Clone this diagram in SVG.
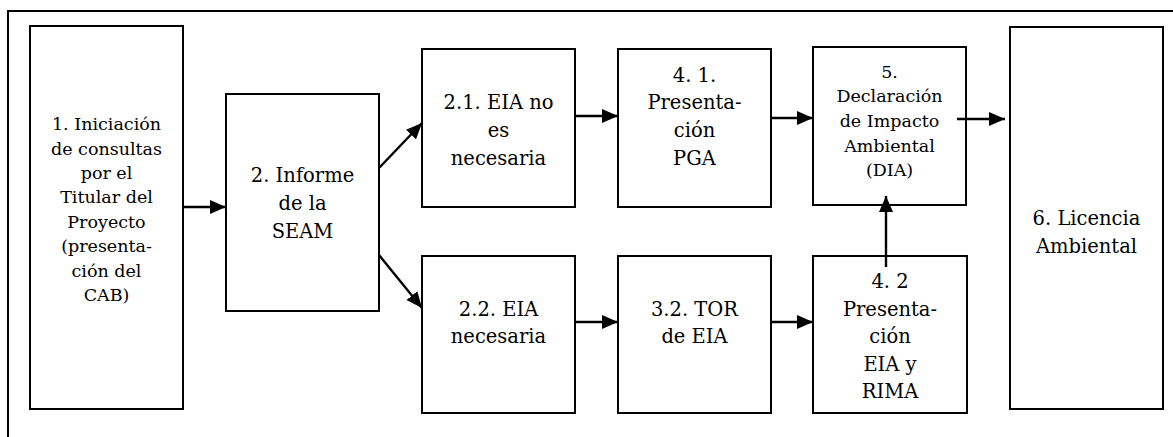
<svg xmlns="http://www.w3.org/2000/svg" width="1173" height="437" viewBox="0 0 1173 437">
<style>
.box{fill:#fff;stroke:#000;stroke-width:2}
.t{font-family:"DejaVu Serif","Liberation Serif",serif;font-size:19.5px;text-anchor:middle;fill:#000}
.s{font-size:17.5px}
.c{stroke:#000;stroke-width:2.4;fill:none;marker-end:url(#ah)}
</style>
<defs>
<marker id="ah" markerUnits="userSpaceOnUse" markerWidth="17" markerHeight="14" refX="16" refY="7" orient="auto">
<path d="M0,0 L16,7 L0,14 z" fill="#000"/>
</marker>
</defs>
<rect width="1173" height="437" fill="#fff"/>
<path d="M8,437 V11 H1173" fill="none" stroke="#000" stroke-width="2"/>
<g id="n1"><rect class="box" x="30" y="26" width="153" height="383"/>
<text class="t s"><tspan x="106.5" y="130">1. Iniciación</tspan><tspan x="106.5" y="155">de consultas</tspan><tspan x="106.5" y="179">por el</tspan><tspan x="106.5" y="203">Titular del</tspan><tspan x="106.5" y="228">Proyecto</tspan><tspan x="106.5" y="252">(presenta-</tspan><tspan x="106.5" y="277">ción del</tspan><tspan x="106.5" y="301">CAB)</tspan></text></g>
<g id="n2"><rect class="box" x="226" y="94" width="153" height="217"/>
<text class="t"><tspan x="302.5" y="182">2. Informe</tspan><tspan x="302.5" y="210">de la</tspan><tspan x="302.5" y="238">SEAM</tspan></text></g>
<g id="n21"><rect class="box" x="422" y="49" width="153" height="158"/>
<text class="t"><tspan x="498.5" y="109">2.1. EIA no</tspan><tspan x="498.5" y="137">es</tspan><tspan x="498.5" y="165">necesaria</tspan></text></g>
<g id="n41"><rect class="box" x="618" y="49" width="153" height="158"/>
<text class="t"><tspan x="694.5" y="82">4. 1.</tspan><tspan x="694.5" y="109">Presenta-</tspan><tspan x="694.5" y="137">ción</tspan><tspan x="694.5" y="165">PGA</tspan></text></g>
<g id="n5"><rect class="box" x="813" y="47" width="153" height="158"/>
<text class="t s"><tspan x="889.5" y="78">5.</tspan><tspan x="889.5" y="102">Declaración</tspan><tspan x="889.5" y="127">de Impacto</tspan><tspan x="889.5" y="152">Ambiental</tspan><tspan x="889.5" y="176">(DIA)</tspan></text></g>
<g id="n22"><rect class="box" x="422" y="256" width="153" height="157"/>
<text class="t"><tspan x="498.5" y="316">2.2. EIA</tspan><tspan x="498.5" y="343">necesaria</tspan></text></g>
<g id="n32"><rect class="box" x="618" y="256" width="153" height="157"/>
<text class="t"><tspan x="694.5" y="316">3.2. TOR</tspan><tspan x="694.5" y="343">de EIA</tspan></text></g>
<g id="n42"><rect class="box" x="813" y="256" width="154" height="157"/>
<text class="t"><tspan x="890" y="288">4. 2</tspan><tspan x="890" y="316">Presenta-</tspan><tspan x="890" y="343">ción</tspan><tspan x="890" y="371">EIA y</tspan><tspan x="890" y="398">RIMA</tspan></text></g>
<g id="n6"><rect class="box" x="1010" y="27" width="153" height="382"/>
<text class="t"><tspan x="1086.5" y="225">6. Licencia</tspan><tspan x="1086.5" y="253">Ambiental</tspan></text></g>
<g id="connectors">
<line class="c" x1="183" y1="207" x2="226" y2="207"/>
<line class="c" x1="379" y1="168" x2="422" y2="123"/>
<line class="c" x1="379" y1="255" x2="422" y2="308"/>
<line class="c" x1="575" y1="116" x2="618" y2="116"/>
<line class="c" x1="771" y1="118" x2="813" y2="118"/>
<line class="c" x1="957" y1="119" x2="1005" y2="119"/>
<line class="c" x1="575" y1="322" x2="618" y2="322"/>
<line class="c" x1="771" y1="322" x2="813" y2="322"/>
<line class="c" x1="886" y1="267" x2="886" y2="196"/>
</g>
</svg>
